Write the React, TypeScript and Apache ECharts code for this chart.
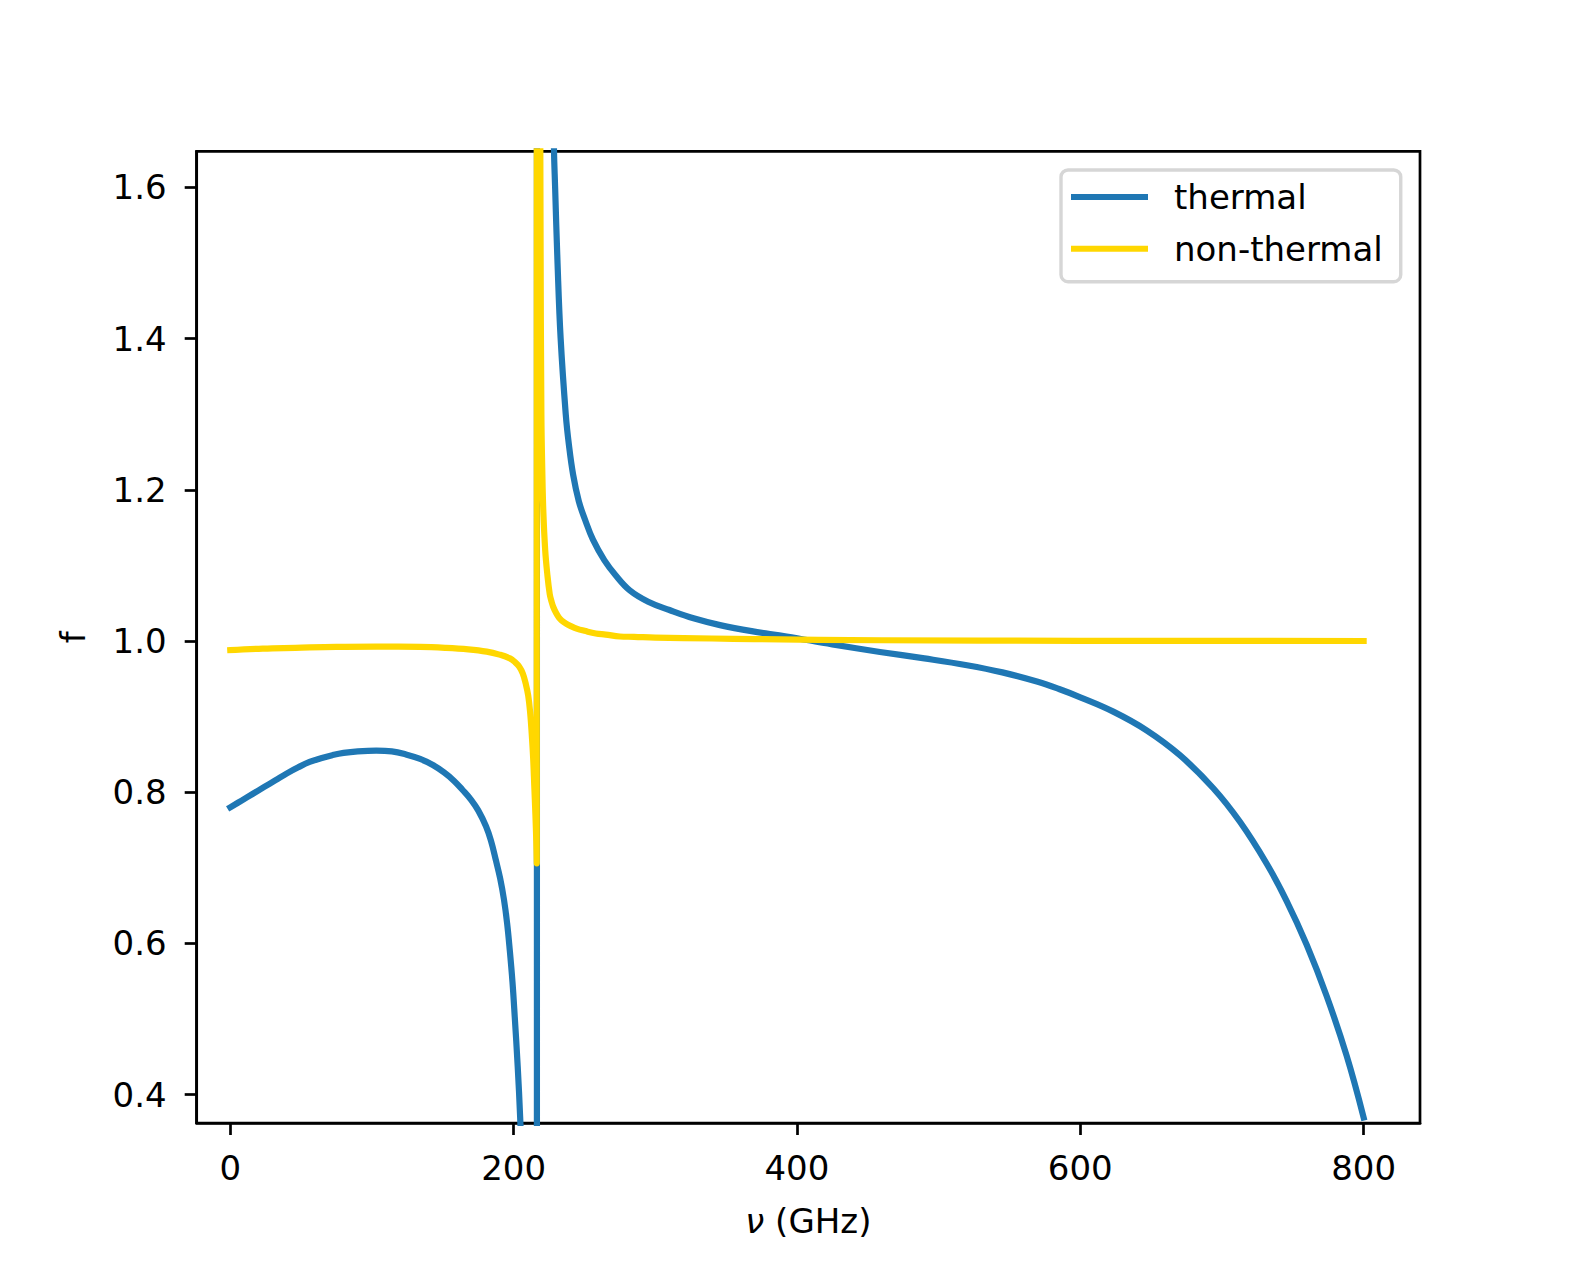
import React, { useEffect, useRef } from "react";
import * as echarts from "echarts";

const FONT = "DejaVu Sans";

const xTicks = [0, 200, 400, 600, 800];
const yTicks = [0.4, 0.6, 0.8, 1.0, 1.2, 1.4, 1.6];

const seriesNames = ["thermal", "non-thermal"];

const thermalFreq = [
  0, 8, 16, 24, 32, 40, 48, 56, 64, 72,
  80, 90, 103, 114, 124, 134, 143, 151, 158, 164,
  170, 175, 180.5, 184, 187.5, 190.5, 193.2, 195.4, 197.3, 199.2,
  200.8, 202.9, 204.6, 206, 207.5, 209, 211, 213, 215, 216.4,
  216.5, 221, 224, 226.5, 228.5, 229.3, 231, 233.2, 236.8, 239,
  242, 246, 250.5, 256, 264, 272, 282, 295, 310, 327,
  345.7, 368, 392.7, 425, 458.6, 490, 520, 545, 570, 585,
  600, 623.3, 646.8, 670.3, 693.9, 712.7, 731.5, 745.6, 759.8, 773.9,
  788, 800,
];
const thermalValues = [
  0.78, 0.789, 0.798, 0.807, 0.816, 0.825, 0.833, 0.84, 0.845, 0.849,
  0.852, 0.854, 0.855, 0.854, 0.85, 0.844, 0.836, 0.826, 0.815, 0.803,
  0.79, 0.776, 0.755, 0.736, 0.71, 0.686, 0.658, 0.627, 0.591, 0.549,
  0.503, 0.437, 0.371, 0.3, 0.19, 0.04, -0.25, -0.7, -2.2, -20,
  20, 3.5, 2.3, 1.9, 1.65, 1.6, 1.5, 1.4, 1.3, 1.26,
  1.22, 1.185, 1.16, 1.134, 1.107, 1.087, 1.067, 1.052, 1.041, 1.03,
  1.021, 1.013, 1.006, 0.9955, 0.9855, 0.977, 0.968, 0.9585, 0.946, 0.9365,
  0.9256, 0.9066, 0.8819, 0.849, 0.8053, 0.7609, 0.7058, 0.6565, 0.5983, 0.5306,
  0.4516, 0.37,
];

const nonThermalFreq = [
  0, 23, 46, 75, 103, 134, 152, 168, 181, 190,
  197.4, 201, 204, 206.5, 208.5, 210.3, 211.7, 212.8, 213.8, 214.6,
  215.4, 216.0, 216.35, 216.5, 218.5, 219.0, 219.6, 220.3, 221, 222.3,
  223.7, 225.5, 226.8, 228, 230, 232, 234, 237, 240, 245,
  250, 258, 265, 275, 285, 300, 340, 370, 460, 600,
  800,
];
const nonThermalValues = [
  0.988, 0.99, 0.991, 0.9922, 0.9925, 0.9922, 0.991, 0.989, 0.986, 0.982,
  0.977, 0.972, 0.966, 0.957, 0.944, 0.928, 0.905, 0.877, 0.845, 0.808,
  0.77, 0.735, 0.706, 20, 2.0, 1.55, 1.3, 1.22, 1.17, 1.12,
  1.09, 1.062, 1.052, 1.045, 1.037, 1.031, 1.027, 1.023, 1.02, 1.016,
  1.0135, 1.01, 1.0085, 1.006, 1.0055, 1.0045, 1.0033, 1.0025, 1.001, 1.0003,
  1.0,
];

const COLORS = ["#1f77b4", "#ffd700"];
const LINE_WIDTH = 6.2;

function pairs(xs: number[], ys: number[]) {
  return xs.map((x, i) => [x, ys[i]]);
}

export default function App() {
  const ref = useRef<HTMLDivElement>(null);

  useEffect(() => {
    document.body.style.margin = "0";
    const chart = echarts.init(ref.current!, null, {
      renderer: "svg",
      width: 1578,
      height: 1262,
    });

    const axisLineStyle = { color: "#000", width: 2.7 };

    const option: any = {
      animation: false,
      backgroundColor: "#fff",
      textStyle: { fontFamily: FONT },
      grid: {
        left: 196.7,
        top: 151.3,
        width: 1223.3,
        height: 971.7,
        show: true,
        borderColor: "#000",
        borderWidth: 2.7,
        backgroundColor: "transparent",
        containLabel: false,
      },
      legend: {
        data: seriesNames,
        orient: "vertical",
        left: 1061,
        top: 170,
        icon: "rect",
        itemWidth: 77,
        itemHeight: 6,
        itemGap: 17.7,
        padding: [10, 18, 16, 10],
        borderColor: "#d6d6d6",
        borderWidth: 3.4,
        borderRadius: 7,
        backgroundColor: "#fff",
        selectedMode: false,
        textStyle: {
          fontFamily: FONT,
          fontSize: 34,
          lineHeight: 34,
          color: "#000",
          padding: [0, 0, 0, 21],
        },
      },
      xAxis: {
        type: "value",
        min: -23.7,
        max: 839.8,
        name: "{i|ν} (GHz)",
        nameLocation: "middle",
        nameGap: 81,
        nameTextStyle: {
          fontFamily: FONT,
          fontSize: 34,
          color: "#000",
          rich: {
            i: { fontFamily: FONT, fontSize: 34, fontStyle: "italic", color: "#000" },
          },
        },
        axisLine: { show: true, onZero: false, lineStyle: axisLineStyle },
        axisTick: {
          show: true,
          length: 12,
          inside: false,
          lineStyle: axisLineStyle,
          customValues: xTicks,
        },
        axisLabel: {
          show: true,
          margin: 28,
          fontFamily: FONT,
          fontSize: 34,
          color: "#000",
          customValues: xTicks,
          formatter: (v: number) => String(Math.round(v)),
        },
        splitLine: { show: false },
      },
      yAxis: {
        type: "value",
        min: 0.3626,
        max: 1.6476,
        name: "f",
        nameLocation: "middle",
        nameGap: 107,
        nameTextStyle: { fontFamily: FONT, fontSize: 34, color: "#000" },
        axisLine: { show: true, onZero: false, lineStyle: axisLineStyle },
        axisTick: {
          show: true,
          length: 12,
          inside: false,
          lineStyle: axisLineStyle,
          customValues: yTicks,
        },
        axisLabel: {
          show: true,
          margin: 30,
          fontFamily: FONT,
          fontSize: 34,
          color: "#000",
          customValues: yTicks,
          formatter: (v: number) => v.toFixed(1),
        },
        splitLine: { show: false },
      },
      series: [
        {
          name: seriesNames[0],
          type: "line",
          data: pairs(thermalFreq, thermalValues),
          showSymbol: false,
          symbol: "none",
          smooth: 0.4,
          clip: true,
          color: COLORS[0],
          lineStyle: { color: COLORS[0], width: LINE_WIDTH, cap: "square", join: "round" },
          emphasis: { disabled: true },
          z: 2,
        },
        {
          name: seriesNames[1],
          type: "line",
          data: pairs(nonThermalFreq, nonThermalValues),
          showSymbol: false,
          symbol: "none",
          smooth: 0.4,
          clip: true,
          color: COLORS[1],
          lineStyle: { color: COLORS[1], width: LINE_WIDTH, cap: "square", join: "round" },
          emphasis: { disabled: true },
          z: 3,
        },
      ],
    };

    chart.setOption(option);
    return () => chart.dispose();
  }, []);

  return (
    <div
      ref={ref}
      style={{
        position: "absolute",
        left: 0,
        top: 0,
        width: 1578,
        height: 1262,
        background: "#fff",
      }}
    />
  );
}
